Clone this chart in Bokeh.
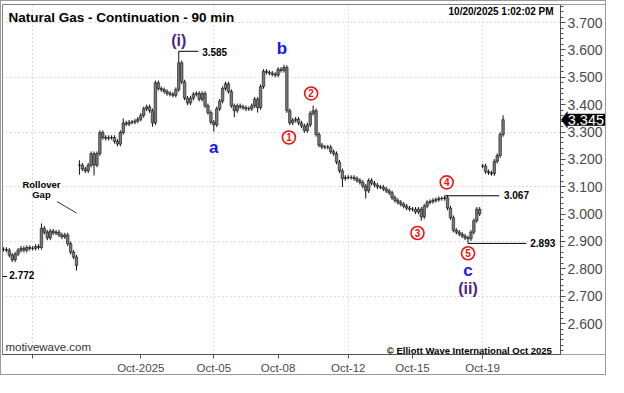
from bokeh.plotting import figure
from bokeh.models import (Label, FixedTicker, Range1d, NumeralTickFormatter,
                          PolyAnnotation, BoxAnnotation)
from bokeh.embed import file_html
from bokeh.resources import INLINE

# ---------------- data (90-min closes) ----------------
closes_old_contract = [2.871, 2.868, 2.850, 2.833, 2.854, 2.868, 2.875, 2.868, 2.878, 2.875,
                       2.875, 2.882, 2.878, 2.948, 2.934, 2.913, 2.938, 2.931, 2.934, 2.924,
                       2.917, 2.924, 2.892, 2.861, 2.843, 2.812]
closes_front = [3.179, 3.165, 3.158, 3.179, 3.221, 3.179, 3.221, 3.298, 3.280, 3.277,
                3.280, 3.280, 3.266, 3.256, 3.298, 3.333, 3.329, 3.336, 3.336, 3.340,
                3.347, 3.361, 3.385, 3.392, 3.378, 3.333, 3.480, 3.459, 3.455, 3.448,
                3.441, 3.438, 3.434, 3.455, 3.553, 3.483, 3.424, 3.406, 3.424, 3.438,
                3.441, 3.420, 3.441, 3.396, 3.371, 3.336, 3.326, 3.385, 3.413, 3.459,
                3.476, 3.448, 3.396, 3.378, 3.396, 3.392, 3.389, 3.385, 3.385, 3.396,
                3.420, 3.389, 3.466, 3.522, 3.518, 3.515, 3.511, 3.508, 3.529, 3.525,
                3.536, 3.378, 3.333, 3.343, 3.347, 3.333, 3.322, 3.305, 3.326, 3.368,
                3.378, 3.291, 3.252, 3.245, 3.245, 3.245, 3.228, 3.221, 3.190, 3.158,
                3.130, 3.134, 3.134, 3.134, 3.130, 3.123, 3.116, 3.102, 3.085, 3.123,
                3.113, 3.106, 3.099, 3.099, 3.092, 3.085, 3.078, 3.060, 3.050, 3.043,
                3.036, 3.029, 3.022, 3.018, 3.018, 3.008, 3.018, 2.990, 3.029, 3.043,
                3.046, 3.050, 3.053, 3.057, 3.057, 3.060, 3.022, 2.987, 2.941, 2.934,
                2.927, 2.920, 2.913, 2.910, 2.934, 2.976, 3.018, 3.001]
closes_oct19 = [3.176, 3.155, 3.151, 3.148, 3.193, 3.214, 3.291, 3.345]

# bar extremes (bar index -> price)
extreme_high = {13: 2.966, 26: 3.197, 41: 3.350, 60: 3.585, 96: 3.546, 106: 3.396,
                151: 3.067, 171: 3.361}
extreme_low = {25: 2.794, 26: 3.144, 31: 3.141, 51: 3.319, 72: 3.301, 79: 3.354,
               87: 3.371, 116: 3.099, 124: 3.057, 143: 2.976, 159: 2.893}

date_tick_bars = [10, 47, 72, 94, 118, 140, 164]
date_tick_labels = ["", "Oct-2025", "Oct-05", "Oct-08", "Oct-12", "Oct-15", "Oct-19"]
week_grid_bars = [10, 72, 118, 164]
price_ticks = [2.6, 2.7, 2.8, 2.9, 3.0, 3.1, 3.2, 3.3, 3.4, 3.5, 3.6, 3.7]
price_grid = [2.7, 2.9, 3.1, 3.3, 3.5, 3.7]

high_label, low_label_ii, high_label_4, old_low = 3.585, 2.893, 3.067, 2.772
last_price = 3.345

# ---------------- build bars ----------------
closes = closes_old_contract + closes_front + closes_oct19
segment_starts = {0, len(closes_old_contract), len(closes_old_contract) + len(closes_front)}
WICK = 0.008
xs, highs, lows, tops, bots = [], [], [], [], []
for i, c in enumerate(closes):
    o = c if i in segment_starts else closes[i - 1]
    xs.append(i)
    highs.append(extreme_high.get(i, max(o, c) + WICK))
    lows.append(extreme_low.get(i, min(o, c) - WICK))
    tops.append(max(o, c))
    bots.append(min(o, c))

AXIS_X = 190.67     # bar position of the price axis line
X_END = 206.4       # right edge of the panel (room for the price labels)

FONT = "Liberation Sans"
p = figure(width=606, height=375, output_backend="svg", toolbar_location=None,
           y_axis_location="right", x_range=Range1d(-0.33, X_END),
           y_range=Range1d(2.487, 3.766), min_border_left=1, min_border_right=1,
           min_border_top=3, min_border_bottom=21,
           styles={"border": "1px solid #9a9a9a"})
p.outline_line_color = "#808080"
p.background_fill_color = "white"
p.border_fill_color = "white"

# price axis, pinned at the right end of the bar area
p.yaxis.fixed_location = AXIS_X
p.yaxis.ticker = FixedTicker(ticks=price_ticks,
                             minor_ticks=[round(2.50 + 0.02 * k, 2) for k in range(64)])
p.yaxis.formatter = NumeralTickFormatter(format="0.000")
p.yaxis.major_label_text_font = FONT
p.yaxis.major_label_text_font_size = "14px"
p.yaxis.major_label_text_color = "#4a4a4a"
p.yaxis.major_tick_in = 0
p.yaxis.major_tick_out = 5
p.yaxis.minor_tick_in = 0
p.yaxis.minor_tick_out = 3
p.yaxis.axis_line_color = "#505050"
p.yaxis.major_tick_line_color = "#505050"
p.yaxis.minor_tick_line_color = "#505050"
p.yaxis.major_label_standoff = 2

p.xaxis.ticker = FixedTicker(ticks=date_tick_bars)
p.xaxis.major_label_overrides = {b: l for b, l in zip(date_tick_bars, date_tick_labels)}
p.xaxis.bounds = (-0.33, AXIS_X)
p.xaxis.major_label_text_font = FONT
p.xaxis.major_label_text_font_size = "11.5px"
p.xaxis.major_label_text_color = "#4a4a4a"
p.xaxis.major_tick_in = 0
p.xaxis.major_tick_out = 4
p.xaxis.minor_tick_out = 0
p.xaxis.axis_line_color = "#505050"
p.xaxis.major_tick_line_color = "#505050"
p.xaxis.major_label_standoff = 3

p.ygrid.ticker = FixedTicker(ticks=price_grid)
p.xgrid.ticker = FixedTicker(ticks=week_grid_bars)
for g in (p.xgrid, p.ygrid):
    g.grid_line_color = "#b8b8b8"
    g.grid_line_dash = "1 3"
    g.grid_line_width = 1

# blank the label strip right of the price axis (hides grid there)
p.add_layout(BoxAnnotation(left=AXIS_X, fill_color="white", fill_alpha=1,
                           line_alpha=0, level="underlay"))

# bars
p.segment(x0=xs, y0=lows, x1=xs, y1=highs, line_color="#111111", line_width=1)
p.vbar(x=xs, width=0.85, top=tops, bottom=bots, fill_color="#7a7a7a",
       line_color="#111111", line_width=0.6)

def lab(x, y, text, size, color="black", bold=True, align="left", baseline="middle"):
    p.add_layout(Label(x=x, y=y, text=text, text_font=FONT, text_font_size=size,
                       text_color=color, text_font_style="bold" if bold else "normal",
                       text_align=align, text_baseline=baseline))

# header / footer texts
lab(1.7, 3.717, "Natural Gas - Continuation - 90 min", "13.5px")
lab(188.3, 3.742, "10/20/2025 1:02:02 PM", "10px", align="right")
lab(0.67, 2.515, "motivewave.com", "11.5px", color="#333333", bold=False)
lab(187.7, 2.500, "\u00a9 Elliott Wave International Oct 2025", "9.5px", align="right")

# price callouts
p.line([60, 60, 66.7], [high_label, high_label + 0.010, high_label + 0.010], line_color="black", line_width=1)
lab(68, high_label + 0.007, f"{high_label:.3f}", "10px")
p.line([151, 169.7], [high_label_4, high_label_4], line_color="black", line_width=1)
lab(171.3, high_label_4 + 0.003, f"{high_label_4:.3f}", "10px")
p.line([159, 179], [low_label_ii, low_label_ii], line_color="black", line_width=1)
lab(180.3, low_label_ii, f"{low_label_ii:.3f}", "10px")
p.line([-0.3, 1.3], [old_low, old_low], line_color="black", line_width=1)
lab(2, old_low + 0.005, f"{old_low:.3f}", "10px")

# rollover gap
lab(13, 3.109, "Rollover", "9.5px", align="center")
lab(13, 3.071, "Gap", "9.5px", align="center")
p.line([18.3, 25], [3.046, 3.004], line_color="#333333", line_width=1)

# wave labels
PURPLE, BLUE, RED = "#521d8c", "#1717f0", "#ee1111"
lab(60, 3.634, "(i)", "16px", color=PURPLE, align="center")
lab(95.3, 3.606, "b", "17px", color=BLUE, align="center")
lab(72, 3.245, "a", "17px", color=BLUE, align="center")
lab(159, 2.794, "c", "17px", color=BLUE, align="center")
lab(159, 2.728, "(ii)", "16px", color=PURPLE, align="center")

circ_x = [97.7, 105.3, 141.7, 151.7, 159]
circ_y = [3.280, 3.441, 2.931, 3.116, 2.857]
circ_t = ["1", "2", "3", "4", "5"]
p.scatter(x=circ_x, y=circ_y, marker="circle", size=13, fill_color="white",
          line_color=RED, line_width=1.6)
for cx, cy, ct in zip(circ_x, circ_y, circ_t):
    lab(cx, cy, ct, "10px", color=RED, align="center")

# last-price tag on the price axis
p.add_layout(PolyAnnotation(xs=[190.9, 193.0, 193.0],
                            ys=[last_price, last_price + 0.030, last_price - 0.030],
                            fill_color="black", fill_alpha=1, line_color="black"))
p.add_layout(Label(x=192.8, y=last_price, text=f"{last_price:.3f}", text_font=FONT,
                   text_font_size="14.5px", text_color="white", text_baseline="middle",
                   text_align="left", background_fill_color="black", padding=1))

open("out.html", "w").write(file_html(p, INLINE))
